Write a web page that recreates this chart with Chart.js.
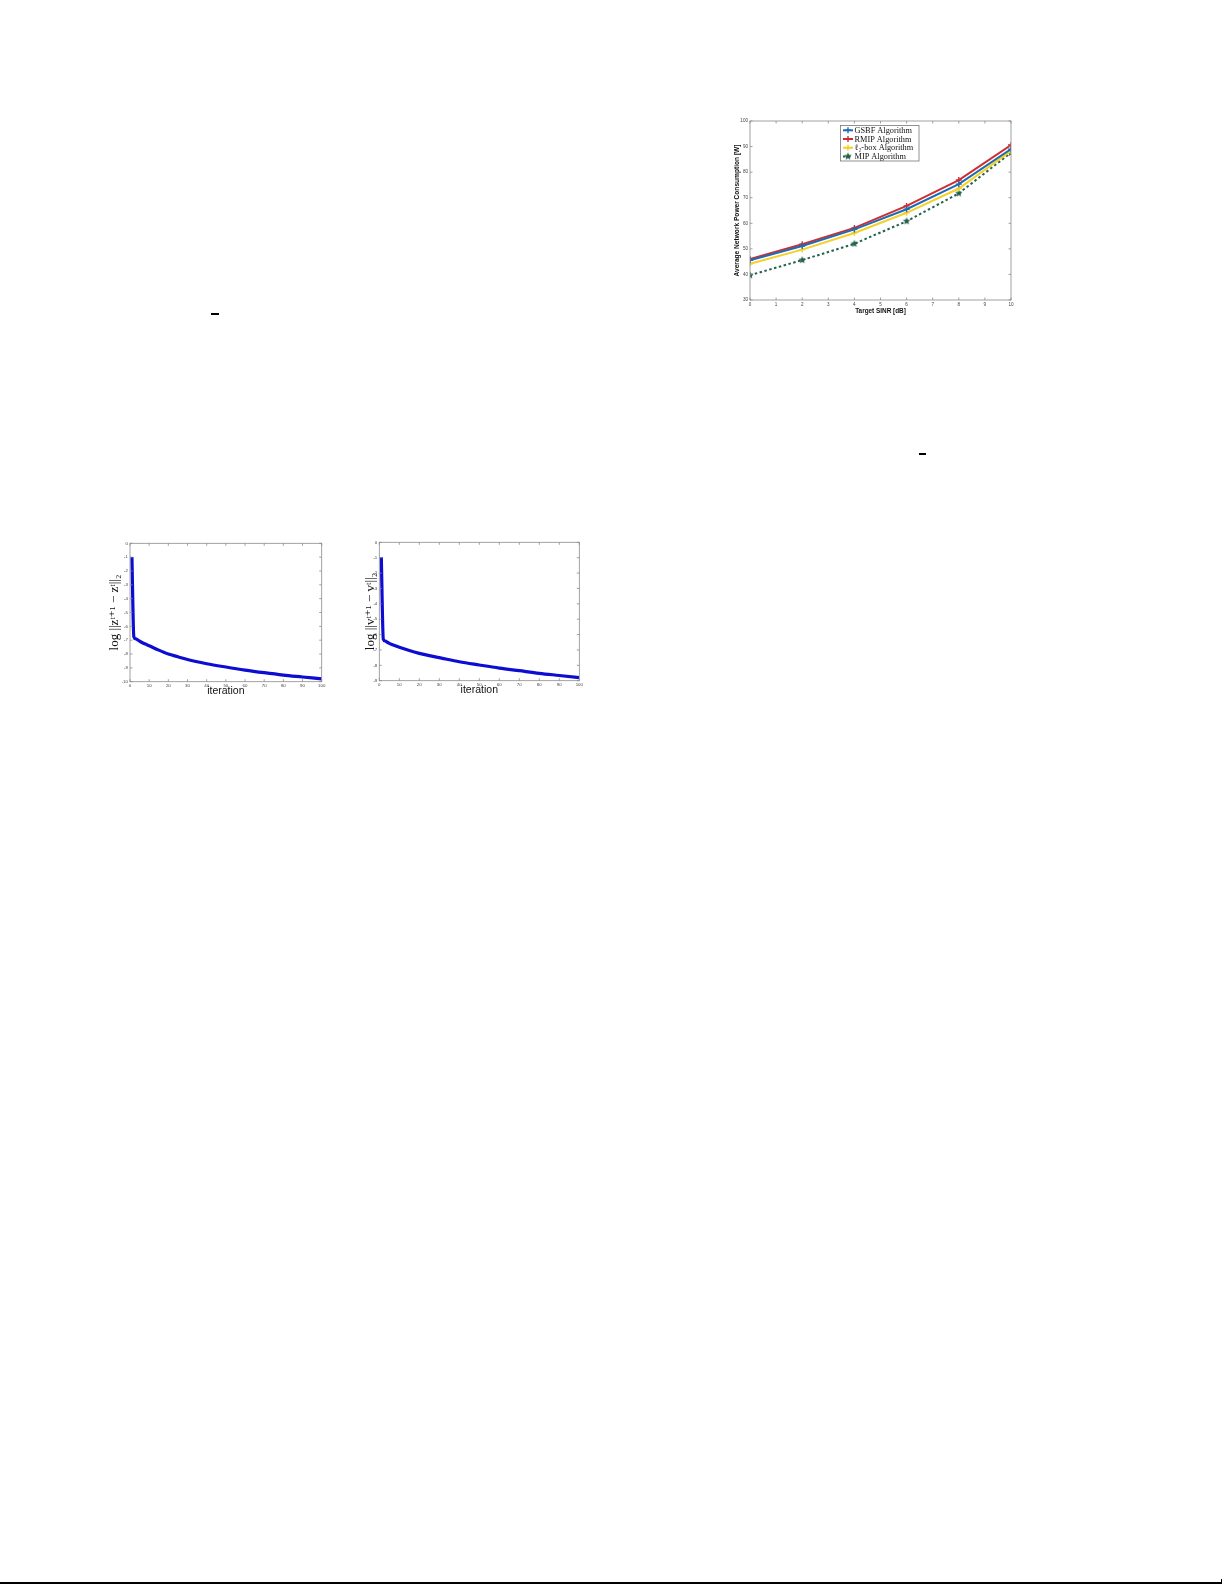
<!DOCTYPE html>
<html>
<head>
<meta charset="utf-8">
<script src="https://cdn.jsdelivr.net/npm/chart.js@4.4.1/dist/chart.umd.min.js"></script>
<style>
  html, body { margin: 0; padding: 0; background: #fff; }
  body { width: 1225px; height: 1585px; position: relative; overflow: hidden; }
  .box { position: absolute; }
  .bar { position: absolute; background: #000; }
</style>
</head>
<body>
<div class="bar" style="left:211px;top:313px;width:8px;height:2px;"></div>
<div class="bar" style="left:919px;top:453px;width:7px;height:2px;"></div>
<div class="bar" style="left:0;top:1582px;width:1222px;height:2px;"></div>
<div class="bar" style="left:1221px;top:1579px;width:1px;height:4px;"></div>

<div class="box" style="left:700px;top:105px;width:330px;height:235px;"><canvas id="powerChart" width="330" height="235"></canvas></div>
<div class="box" style="left:95px;top:530px;width:240px;height:175px;"><canvas id="convZ" width="240" height="175"></canvas></div>
<div class="box" style="left:345px;top:530px;width:250px;height:175px;"><canvas id="convV" width="250" height="175"></canvas></div>

<script>
// Công suất mạng trung bình theo SINR mục tiêu
var sinrDb = [0, 2, 4, 6, 8, 10];
var gsbfPower = [45.5, 51.1, 57.6, 65.5, 75.3, 89.0];
var rmipPower = [46.0, 51.8, 58.2, 66.8, 76.9, 90.6];
var l2boxPower = [44.2, 49.7, 56.2, 64.1, 73.6, 88.3];
var mipPower = [39.7, 45.6, 52.0, 60.8, 71.7, 87.6];
var seriesNames = ['GSBF Algorithm', 'RMIP Algorithm', '\u2113\u2082-box Algorithm', 'MIP Algorithm'];
var powerTicksY = [30, 40, 50, 60, 70, 80, 90, 100];
var sinrTicks = [0, 1, 2, 3, 4, 5, 6, 7, 8, 9, 10];

// Đường hội tụ
var iterations = [1, 2, 3, 4, 5, 6, 8, 10, 15, 20, 25, 30, 40, 50, 60, 70, 80, 90, 100];
var logDiffZ = [-1, -6.75, -6.9, -6.98, -7.07, -7.15, -7.28, -7.4, -7.72, -8.0, -8.2, -8.4, -8.7, -8.94, -9.16, -9.35, -9.52, -9.66, -9.8];
var logDiffV = [-0.98, -6.3, -6.42, -6.5, -6.57, -6.63, -6.73, -6.83, -7.04, -7.22, -7.37, -7.5, -7.77, -7.98, -8.18, -8.35, -8.52, -8.66, -8.8];
var iterTicks = [0, 10, 20, 30, 40, 50, 60, 70, 80, 90, 100];

function toPoints(xs, ys) {
    var pts = [];
    for (var i = 0; i < xs.length; i++) pts.push({ x: xs[i], y: ys[i] });
    return pts;
}

function fixedTicks(values) {
    return function (scale) {
        scale.ticks = values.map(function (v) { return { value: v }; });
    };
}

// ngôi sao 5 cánh cho MIP
function starImage(color, r) {
    var c = document.createElement('canvas');
    var s = Math.ceil(r * 2 + 2);
    c.width = s; c.height = s;
    var g = c.getContext('2d');
    g.fillStyle = color;
    g.beginPath();
    for (var k = 0; k < 10; k++) {
        var rr = k % 2 === 0 ? r : r * 0.45;
        var ang = -Math.PI / 2 + k * Math.PI / 5;
        var px = s / 2 + rr * Math.cos(ang), py = s / 2 + rr * Math.sin(ang);
        if (k === 0) g.moveTo(px, py); else g.lineTo(px, py);
    }
    g.closePath();
    g.fill();
    return c;
}

// khung kiểu MATLAB: viền + vạch chia hướng vào trong
var matlabBox = {
    id: 'matlabBox',
    afterDatasetsDraw: function (chart) {
        var a = chart.chartArea, ctx = chart.ctx;
        ctx.save();
        ctx.strokeStyle = '#8a8a8a';
        ctx.lineWidth = 0.8;
        ctx.strokeRect(a.left, a.top, a.right - a.left, a.bottom - a.top);
        var xs = chart.scales.x, ys = chart.scales.y;
        ctx.beginPath();
        xs.ticks.forEach(function (t) {
            var px = xs.getPixelForValue(t.value);
            ctx.moveTo(px, a.bottom); ctx.lineTo(px, a.bottom - 2.5);
            ctx.moveTo(px, a.top); ctx.lineTo(px, a.top + 2.5);
        });
        ys.ticks.forEach(function (t) {
            var py = ys.getPixelForValue(t.value);
            ctx.moveTo(a.left, py); ctx.lineTo(a.left + 2.5, py);
            ctx.moveTo(a.right, py); ctx.lineTo(a.right - 2.5, py);
        });
        ctx.stroke();
        ctx.restore();
    }
};

var colors = ['rgb(28,108,180)', 'rgb(206,45,50)', 'rgb(244,208,40)', 'rgb(38,96,78)'];
var markers = ['cross', 'cross', 'cross', starImage('rgb(38,96,78)', 4)];

var insideLegend = {
    id: 'insideLegend',
    afterDraw: function (chart) {
        var ctx = chart.ctx;
        var x0 = chart.chartArea.left + 90.5, y0 = chart.chartArea.top + 4.5;
        var w = 78.5, h = 35.5;
        ctx.save();
        ctx.fillStyle = '#fff';
        ctx.fillRect(x0, y0, w, h);
        ctx.strokeStyle = '#777';
        ctx.lineWidth = 0.8;
        ctx.strokeRect(x0, y0, w, h);
        ctx.font = '8.3px "Liberation Serif", "DejaVu Serif", serif';
        ctx.textBaseline = 'middle';
        chart.data.datasets.forEach(function (ds, i) {
            var cy = y0 + 4.8 + i * 8.7;
            ctx.strokeStyle = ds.borderColor;
            ctx.fillStyle = ds.borderColor;
            ctx.lineWidth = 2;
            ctx.setLineDash(ds.borderDash || []);
            ctx.beginPath();
            ctx.moveTo(x0 + 2.5, cy); ctx.lineTo(x0 + 12.5, cy);
            ctx.stroke();
            ctx.setLineDash([]);
            ctx.lineWidth = 1.4;
            Chart.helpers.drawPoint(ctx, { pointStyle: ds.pointStyle, radius: 3, borderWidth: 1.4 }, x0 + 7.5, cy);
            ctx.fillStyle = '#111';
            ctx.fillText(ds.label, x0 + 14, cy + 0.5);
        });
        ctx.restore();
    }
};

var tickFont = { family: '"Liberation Sans", Arial, sans-serif', size: 4.6 };
var noGrid = { display: false, drawTicks: false };

function powerDataset(i, values) {
    return {
        label: seriesNames[i],
        data: toPoints(sinrDb, values),
        borderColor: colors[i],
        backgroundColor: colors[i],
        borderWidth: 2,
        borderDash: i === 3 ? [2.5, 2.5] : [],
        pointStyle: markers[i],
        pointRadius: 3,
        pointBorderWidth: 1.4,
        tension: 0
    };
}

new Chart(document.getElementById('powerChart'), {
    type: 'line',
    data: {
        datasets: [
            powerDataset(0, gsbfPower),
            powerDataset(1, rmipPower),
            powerDataset(2, l2boxPower),
            powerDataset(3, mipPower)
        ]
    },
    options: {
        responsive: false,
        animation: false,
        layout: { padding: { top: 16, right: 19, left: 0, bottom: 0 } },
        plugins: { legend: { display: false }, tooltip: { enabled: false } },
        scales: {
            x: {
                type: 'linear', min: 0, max: 10,
                afterBuildTicks: fixedTicks(sinrTicks),
                afterFit: function (s) { s.height = 40; },
                grid: noGrid, border: { display: false },
                ticks: { font: tickFont, color: '#444', padding: 1.5, maxRotation: 0 },
                title: { display: true, text: 'Target SINR [dB]', color: '#111',
                    font: { family: '"Liberation Sans", Arial, sans-serif', size: 6.4, weight: 'bold' },
                    padding: { top: 0, bottom: 25 } }
            },
            y: {
                min: 30, max: 100,
                afterBuildTicks: fixedTicks(powerTicksY),
                afterFit: function (s) { s.width = 50; },
                grid: noGrid, border: { display: false },
                ticks: { font: tickFont, color: '#444', padding: 2 },
                title: { display: true, text: 'Average Network Power Consumption [W]', color: '#111',
                    font: { family: '"Liberation Sans", Arial, sans-serif', size: 6.6, weight: 'bold' },
                    padding: { top: 33, bottom: 0 } }
            }
        }
    },
    plugins: [matlabBox, insideLegend]
});

function convChart(id, values, yMin, yTicks, label, cfg) {
    new Chart(document.getElementById(id), {
        type: 'line',
        data: {
            datasets: [{
                data: toPoints(iterations, values),
                borderColor: 'rgb(12,12,210)',
                borderWidth: 3.2,
                pointRadius: 0,
                cubicInterpolationMode: 'monotone'
            }]
        },
        options: {
            responsive: false,
            animation: false,
            layout: { padding: { top: cfg.top, right: cfg.right, left: 0, bottom: 0 } },
            plugins: { legend: { display: false }, tooltip: { enabled: false } },
            scales: {
                x: {
                    type: 'linear', min: 0, max: 100,
                    afterBuildTicks: fixedTicks(iterTicks),
                    afterFit: function (s) { s.height = cfg.xh; },
                    grid: noGrid, border: { display: false },
                    ticks: { font: { family: '"Liberation Sans", Arial, sans-serif', size: 4.4 }, color: '#444', padding: 1.5, maxRotation: 0 },
                    title: { display: true, text: 'iteration', color: '#111',
                        font: { family: '"Liberation Sans", Arial, sans-serif', size: 10.5 },
                        padding: { top: 0, bottom: cfg.xtb } }
                },
                y: {
                    min: yMin, max: 0,
                    afterBuildTicks: fixedTicks(yTicks),
                    afterFit: function (s) { s.width = cfg.yw; },
                    grid: noGrid, border: { display: false },
                    ticks: { font: { family: '"Liberation Sans", Arial, sans-serif', size: 4.4 }, color: '#444', padding: 2 },
                    title: { display: true, text: label, color: '#111',
                        font: { family: '"Liberation Serif", "DejaVu Serif", serif', size: 13 },
                        padding: { top: cfg.ytp, bottom: 0 } }
                }
            }
        },
        plugins: [matlabBox]
    });
}

convChart('convZ', logDiffZ, -10, [0, -1, -2, -3, -4, -5, -6, -7, -8, -9, -10],
    'log ||z\u1D57\u207A\u00B9 \u2212 z\u1D57||\u2082',
    { top: 13.3, right: 13.3, xh: 23.3, yw: 35, xtb: 7.5, ytp: 12.2 });
convChart('convV', logDiffV, -9, [0, -1, -2, -3, -4, -5, -6, -7, -8, -9],
    'log ||v\u1D57\u207A\u00B9 \u2212 v\u1D57||\u2082',
    { top: 12.3, right: 15.7, xh: 24.3, yw: 34.3, xtb: 8.1, ytp: 18 });
</script>
</body>
</html>
